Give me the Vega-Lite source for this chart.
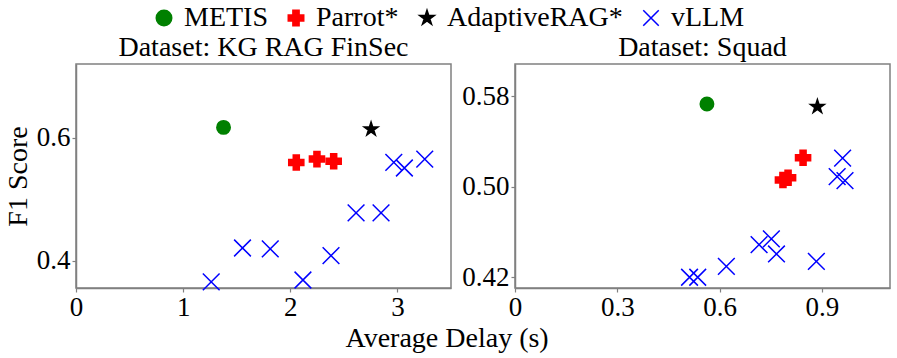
{
  "$schema": "https://vega.github.io/schema/vega-lite/v6.json",
  "padding": {"left": 3, "top": 4, "right": 4, "bottom": 1},
  "datasets": {
    "pts": [
      {"dataset": "KG RAG FinSec", "method": "METIS", "delay": 1.377, "f1": 0.617},
      {"dataset": "KG RAG FinSec", "method": "AdaptiveRAG*", "delay": 2.754, "f1": 0.614},
      {"dataset": "KG RAG FinSec", "method": "Parrot*", "delay": 2.056, "f1": 0.560},
      {"dataset": "KG RAG FinSec", "method": "Parrot*", "delay": 2.249, "f1": 0.5655},
      {"dataset": "KG RAG FinSec", "method": "Parrot*", "delay": 2.405, "f1": 0.562},
      {"dataset": "KG RAG FinSec", "method": "vLLM", "delay": 1.262, "f1": 0.366},
      {"dataset": "KG RAG FinSec", "method": "vLLM", "delay": 1.554, "f1": 0.421},
      {"dataset": "KG RAG FinSec", "method": "vLLM", "delay": 1.813, "f1": 0.4195},
      {"dataset": "KG RAG FinSec", "method": "vLLM", "delay": 2.118, "f1": 0.369},
      {"dataset": "KG RAG FinSec", "method": "vLLM", "delay": 2.380, "f1": 0.4086},
      {"dataset": "KG RAG FinSec", "method": "vLLM", "delay": 2.614, "f1": 0.478},
      {"dataset": "KG RAG FinSec", "method": "vLLM", "delay": 2.847, "f1": 0.478},
      {"dataset": "KG RAG FinSec", "method": "vLLM", "delay": 2.966, "f1": 0.560},
      {"dataset": "KG RAG FinSec", "method": "vLLM", "delay": 3.065, "f1": 0.551},
      {"dataset": "KG RAG FinSec", "method": "vLLM", "delay": 3.255, "f1": 0.5655},
      {"dataset": "Squad", "method": "METIS", "delay": 0.563, "f1": 0.5732},
      {"dataset": "Squad", "method": "AdaptiveRAG*", "delay": 0.887, "f1": 0.5708},
      {"dataset": "Squad", "method": "Parrot*", "delay": 0.845, "f1": 0.5257},
      {"dataset": "Squad", "method": "Parrot*", "delay": 0.801, "f1": 0.508},
      {"dataset": "Squad", "method": "Parrot*", "delay": 0.786, "f1": 0.506},
      {"dataset": "Squad", "method": "vLLM", "delay": 0.512, "f1": 0.420},
      {"dataset": "Squad", "method": "vLLM", "delay": 0.536, "f1": 0.420},
      {"dataset": "Squad", "method": "vLLM", "delay": 0.620, "f1": 0.4297},
      {"dataset": "Squad", "method": "vLLM", "delay": 0.716, "f1": 0.4488},
      {"dataset": "Squad", "method": "vLLM", "delay": 0.752, "f1": 0.4539},
      {"dataset": "Squad", "method": "vLLM", "delay": 0.767, "f1": 0.4406},
      {"dataset": "Squad", "method": "vLLM", "delay": 0.884, "f1": 0.434},
      {"dataset": "Squad", "method": "vLLM", "delay": 0.961, "f1": 0.5254},
      {"dataset": "Squad", "method": "vLLM", "delay": 0.945, "f1": 0.509},
      {"dataset": "Squad", "method": "vLLM", "delay": 0.968, "f1": 0.5054}
    ]
  },
  "data": {"name": "pts"},
  "title": {"text": "Average Delay (s)", "orient": "bottom", "anchor": "middle", "fontSize": 28, "fontWeight": "normal", "offset": 4},
  "spacing": 9,
  "hconcat": [
    {
      "width": 375,
      "height": 224,
      "title": {"text": "Dataset: KG RAG FinSec", "offset": 2},
      "transform": [{"filter": "datum.dataset == 'KG RAG FinSec'"}],
      "mark": {"type": "point", "strokeWidth": 1.5, "opacity": 1},
      "encoding": {
        "x": {"field": "delay", "type": "quantitative", "scale": {"domain": [0, 3.5], "nice": false, "zero": false},
              "axis": {"title": null, "values": [0, 1, 2, 3], "format": "~g"}},
        "y": {"field": "f1", "type": "quantitative", "scale": {"domain": [0.356, 0.72], "nice": false, "zero": false},
              "axis": {"title": "F1 Score", "values": [0.4, 0.6], "format": ".1f", "titlePadding": 4}},
        "fill": {"field": "method", "type": "nominal", "scale": {"domain": ["METIS", "Parrot*", "AdaptiveRAG*", "vLLM"], "range": ["#008000", "#ff0000", "#000000", "#0000ff"]}, "legend": {"title": null, "orient": "top", "direction": "horizontal"}},
        "stroke": {"field": "method", "type": "nominal", "scale": {"domain": ["METIS", "Parrot*", "AdaptiveRAG*", "vLLM"], "range": ["#008000", "#ff0000", "#000000", "#0000ff"]}, "legend": {"title": null, "orient": "top", "direction": "horizontal"}},
        "shape": {"field": "method", "type": "nominal", "scale": {"domain": ["METIS", "Parrot*", "AdaptiveRAG*", "vLLM"], "range": ["circle", "cross", "M0,-1L0.2245,-0.309L0.951,-0.309L0.363,0.118L0.588,0.809L0,0.382L-0.588,0.809L-0.363,0.118L-0.951,-0.309L-0.2245,-0.309Z", "M-1,-1L1,1M-1,1L1,-1"]}, "legend": {"title": null, "orient": "top", "direction": "horizontal"}},
        "size": {"condition": [{"test": "datum.method == 'METIS'", "value": 180}, {"test": "datum.method == 'vLLM'", "value": 280}, {"test": "datum.method == 'Parrot*'", "value": 228}], "value": 210}
      }
    },
    {
      "width": 375,
      "height": 224,
      "title": {"text": "Dataset: Squad", "offset": 2},
      "transform": [{"filter": "datum.dataset == 'Squad'"}],
      "mark": {"type": "point", "strokeWidth": 1.5, "opacity": 1},
      "encoding": {
        "x": {"field": "delay", "type": "quantitative", "scale": {"domain": [0, 1.1], "nice": false, "zero": false},
              "axis": {"title": null, "values": [0, 0.3, 0.6, 0.9], "format": "~g"}},
        "y": {"field": "f1", "type": "quantitative", "scale": {"domain": [0.4105, 0.6086], "nice": false, "zero": false},
              "axis": {"title": null, "values": [0.42, 0.5, 0.58], "format": ".2f"}},
        "fill": {"field": "method", "type": "nominal", "legend": {"title": null, "orient": "top", "direction": "horizontal"}},
        "stroke": {"field": "method", "type": "nominal", "legend": {"title": null, "orient": "top", "direction": "horizontal"}},
        "shape": {"field": "method", "type": "nominal", "legend": {"title": null, "orient": "top", "direction": "horizontal"}},
        "size": {"condition": [{"test": "datum.method == 'METIS'", "value": 180}, {"test": "datum.method == 'vLLM'", "value": 280}, {"test": "datum.method == 'Parrot*'", "value": 228}], "value": 210}
      }
    }
  ],
  "config": {
    "font": "Liberation Serif",
    "view": {"stroke": "#808080", "strokeWidth": 1.5},
    "axis": {
      "grid": false, "domainColor": "#808080", "domainWidth": 1.5, "tickColor": "#808080", "tickSize": 4, "tickWidth": 1.2,
      "labelFontSize": 27, "labelColor": "#000000", "labelFont": "Liberation Serif", "labelFlush": false, "labelPadding": 2, "labelOverlap": false,
      "titleFontSize": 28, "titleFontWeight": "normal", "titleColor": "#000000", "titleFont": "Liberation Serif"
    },
    "title": {"fontSize": 28, "fontWeight": "normal", "font": "Liberation Serif", "color": "#000000"},
    "legend": {
      "labelFontSize": 28, "labelFont": "Liberation Serif", "labelColor": "#000000", "labelOffset": 6, "labelLimit": 0,
      "symbolSize": 240, "symbolStrokeWidth": 1.5, "columnPadding": 14, "symbolOpacity": 1, "offset": 1,
      "layout": {"top": {"anchor": "middle"}}
    }
  }
}
